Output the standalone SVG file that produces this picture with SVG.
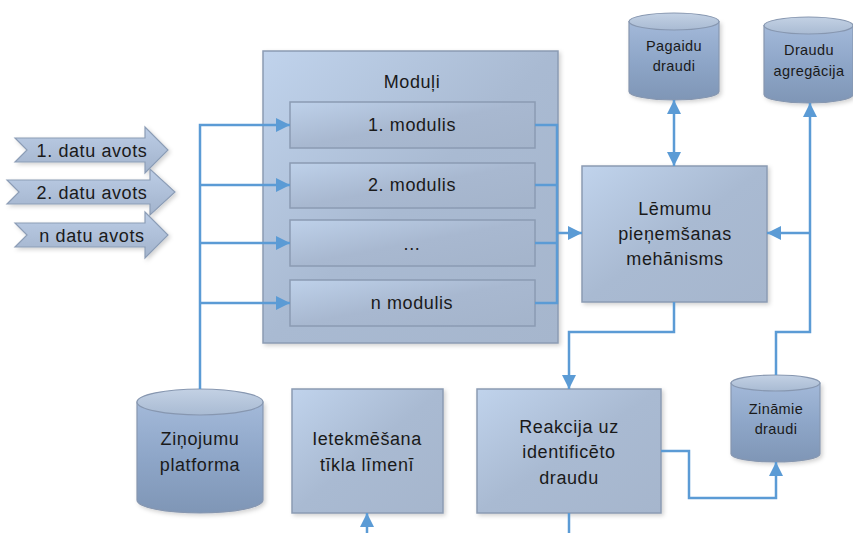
<svg xmlns="http://www.w3.org/2000/svg" width="853" height="533" viewBox="0 0 853 533">
  <defs>
    <linearGradient id="boxFill" x1="0" y1="0" x2="1" y2="1">
      <stop offset="0" stop-color="#c0d3ec"/>
      <stop offset="0.5" stop-color="#a9bad2"/>
      <stop offset="1" stop-color="#a6b6cd"/>
    </linearGradient>
    <linearGradient id="innerFill" x1="0" y1="0" x2="1" y2="1">
      <stop offset="0" stop-color="#bed1ea"/>
      <stop offset="0.5" stop-color="#a8b8d0"/>
      <stop offset="1" stop-color="#a4b4cb"/>
    </linearGradient>
    <linearGradient id="cylBody" x1="0" y1="0" x2="0" y2="1">
      <stop offset="0" stop-color="#a3b9d9"/>
      <stop offset="0.5" stop-color="#8ea6c8"/>
      <stop offset="1" stop-color="#7f96b6"/>
    </linearGradient>
    <linearGradient id="cylTop" x1="0" y1="0" x2="0" y2="1">
      <stop offset="0" stop-color="#c3d1e4"/>
      <stop offset="1" stop-color="#a9bbd3"/>
    </linearGradient>
    <linearGradient id="srcFill" x1="0" y1="0" x2="0" y2="1">
      <stop offset="0" stop-color="#bccde6"/>
      <stop offset="1" stop-color="#a2b3cc"/>
    </linearGradient>
    <filter id="shadow" x="-10%" y="-10%" width="125%" height="125%">
      <feDropShadow dx="2" dy="2" stdDeviation="2" flood-color="#000" flood-opacity="0.18"/>
    </filter>
    <marker id="arrow" viewBox="0 0 14 14" refX="14" refY="7" markerWidth="14" markerHeight="14" markerUnits="userSpaceOnUse" orient="auto-start-reverse">
      <path d="M0,0 L14,7 L0,14 Z" fill="#5b9bd5"/>
    </marker>
  </defs>
  <style>
    .box { fill: url(#boxFill); stroke: #8b9bb3; stroke-width: 1.5; }
    .inner { fill: url(#innerFill); stroke: #8b9bb3; stroke-width: 1.5; }
    .cyl { fill: url(#cylBody); stroke: #8797b0; stroke-width: 1.2; }
    .cyltop { fill: url(#cylTop); stroke: #8797b0; stroke-width: 1.2; }
    .src { fill: url(#srcFill); stroke: #8c9db6; stroke-width: 1.2; }
    .lbl { font-family: "Liberation Sans", Arial, sans-serif; font-size: 18px; letter-spacing: 0.6px; fill: #1a1a1a; text-anchor: middle; }
    .sm { font-size: 14.5px; letter-spacing: 0.4px; }
    .wire { fill: none; stroke: #5b9bd5; stroke-width: 2.5; }
  </style>

  <!-- data sources -->
  <g id="src1">
    <path class="src" filter="url(#shadow)" d="M15,138 H145 V127 L168,150 L145,173 V162 H15 L27,150 Z"/>
    <text class="lbl" x="92" y="157">1. datu avots</text>
  </g>
  <g id="src2">
    <path class="src" filter="url(#shadow)" d="M7,180 H150 V169 L175,192 L150,215 V204 H7 L19,192 Z"/>
    <text class="lbl" x="92" y="199">2. datu avots</text>
  </g>
  <g id="src3">
    <path class="src" filter="url(#shadow)" d="M15,223 H145 V212 L168,235 L145,258 V247 H15 L27,235 Z"/>
    <text class="lbl" x="92" y="242">n datu avots</text>
  </g>

  <!-- modules container -->
  <g id="modules">
    <rect class="box" filter="url(#shadow)" x="263" y="51" width="295" height="292"/>
    <text class="lbl" x="412" y="88">Moduļi</text>
  </g>
  <g id="mod1">
    <rect class="inner" x="290" y="102" width="245" height="46"/>
    <text class="lbl" x="412" y="131">1. modulis</text>
  </g>
  <g id="mod2">
    <rect class="inner" x="290" y="163" width="245" height="45"/>
    <text class="lbl" x="412" y="191">2. modulis</text>
  </g>
  <g id="mod3">
    <rect class="inner" x="290" y="220" width="245" height="46"/>
    <text class="lbl" x="412" y="250">...</text>
  </g>
  <g id="mod4">
    <rect class="inner" x="290" y="280" width="245" height="46"/>
    <text class="lbl" x="412" y="309">n modulis</text>
  </g>

  <!-- decision mechanism -->
  <g id="decision">
    <rect class="box" filter="url(#shadow)" x="582" y="166" width="185" height="136"/>
    <text class="lbl" x="675" y="215">Lēmumu</text>
    <text class="lbl" x="675" y="240">pieņemšanas</text>
    <text class="lbl" x="675" y="265">mehānisms</text>
  </g>

  <!-- temporary threats -->
  <g id="temp">
    <path class="cyl" filter="url(#shadow)" d="M629,21.5 V91.5 A45,8.5 0 0 0 719,91.5 V21.5 Z"/>
    <ellipse class="cyltop" cx="674" cy="21.5" rx="45" ry="8.5"/>
    <text class="lbl sm" x="674" y="51">Pagaidu</text>
    <text class="lbl sm" x="674" y="71">draudi</text>
  </g>

  <!-- threat aggregation -->
  <g id="aggr">
    <path class="cyl" filter="url(#shadow)" d="M764,25.5 V94.5 A44.5,8.5 0 0 0 853,94.5 V25.5 Z"/>
    <ellipse class="cyltop" cx="808.5" cy="25.5" rx="44.5" ry="8.5"/>
    <text class="lbl sm" x="809" y="55">Draudu</text>
    <text class="lbl sm" x="809" y="76">agregācija</text>
  </g>

  <!-- known threats -->
  <g id="known">
    <path class="cyl" filter="url(#shadow)" d="M731,383 V454 A44.5,8 0 0 0 820,454 V383 Z"/>
    <ellipse class="cyltop" cx="775.5" cy="383" rx="44.5" ry="8"/>
    <text class="lbl sm" x="776" y="414">Zināmie</text>
    <text class="lbl sm" x="776" y="434">draudi</text>
  </g>

  <!-- messaging platform -->
  <g id="platform">
    <path class="cyl" filter="url(#shadow)" d="M137,402 V500 A63,13 0 0 0 263,500 V402 Z"/>
    <ellipse class="cyltop" cx="200" cy="402" rx="63" ry="13"/>
    <text class="lbl" x="200" y="445">Ziņojumu</text>
    <text class="lbl" x="200" y="471">platforma</text>
  </g>

  <!-- network level influence -->
  <g id="network">
    <rect class="box" filter="url(#shadow)" x="292" y="389" width="151" height="124"/>
    <text class="lbl" x="367" y="445">Ietekmēšana</text>
    <text class="lbl" x="367" y="471">tīkla līmenī</text>
  </g>

  <!-- reaction -->
  <g id="reaction">
    <rect class="box" filter="url(#shadow)" x="477" y="389" width="184" height="124"/>
    <text class="lbl" x="569" y="433">Reakcija uz</text>
    <text class="lbl" x="569" y="458">identificēto</text>
    <text class="lbl" x="569" y="484">draudu</text>
  </g>

  <!-- connectors -->
  <g id="connectors">
    <path class="wire" d="M200,389 V125 H290" marker-end="url(#arrow)"/>
    <path class="wire" d="M200,185 H290" marker-end="url(#arrow)"/>
    <path class="wire" d="M200,243 H290" marker-end="url(#arrow)"/>
    <path class="wire" d="M200,303 H290" marker-end="url(#arrow)"/>

    <path class="wire" d="M535,125 H557 V303 H535 M535,185 H557 M535,243 H557"/>
    <path class="wire" d="M557,233 H582" marker-end="url(#arrow)"/>

    <path class="wire" d="M674,100 V166" marker-start="url(#arrow)" marker-end="url(#arrow)"/>

    <path class="wire" d="M776,375 V332 H810 V103" marker-end="url(#arrow)"/>
    <path class="wire" d="M810,233 H767" marker-end="url(#arrow)"/>

    <path class="wire" d="M674,302 V332 H569 V389" marker-end="url(#arrow)"/>

    <path class="wire" d="M661,451 H689 V498 H776 V462" marker-end="url(#arrow)"/>

    <path class="wire" d="M569,513 V533"/>
    <path class="wire" d="M367,533 V513" marker-end="url(#arrow)"/>
  </g>
</svg>
